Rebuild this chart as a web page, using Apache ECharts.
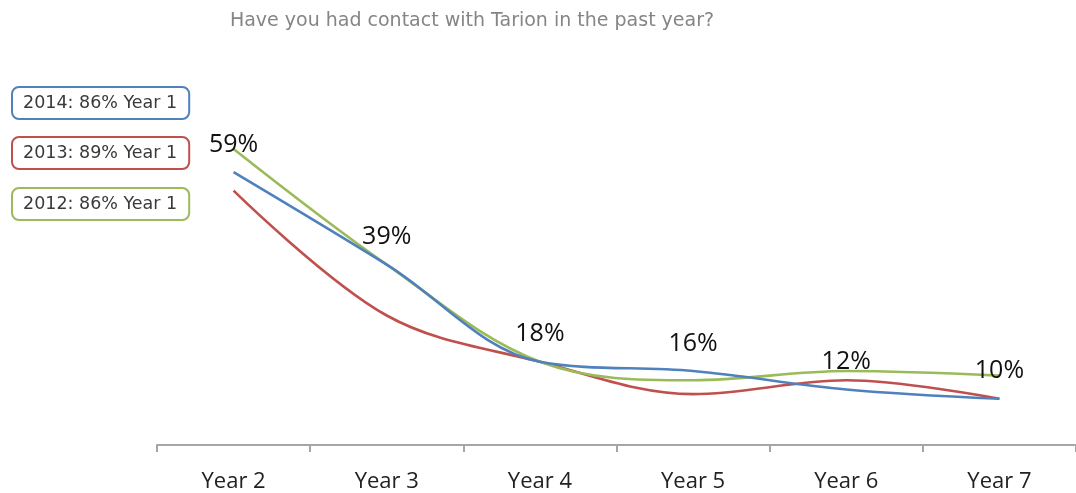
<!DOCTYPE html>
<html>
<head>
<meta charset="utf-8">
<script src="https://cdn.jsdelivr.net/npm/echarts@6/dist/echarts.min.js"></script>
<style>
  html, body { margin: 0; padding: 0; background: #ffffff; }
  #chart { width: 1076px; height: 493px; }
</style>
</head>
<body>
<div id="chart"></div>
<script>
// Share of homeowners reporting contact with Tarion, by year of possession
const categories = ['Year 2', 'Year 3', 'Year 4', 'Year 5', 'Year 6', 'Year 7'];
const seriesNames = ['2014: 86% Year 1', '2013: 89% Year 1', '2012: 86% Year 1'];
const values2014 = [59, 39, 18, 16, 12, 10];
const values2013 = [55, 28, 18, 11, 14, 10];
const values2012 = [64, 39, 18, 14, 16, 15];
const colors = ['#4F81BD', '#C0504D', '#9BBB59'];

const chart = echarts.init(document.getElementById('chart'));

function boxLegend(name, color, top) {
  return {
    data: [name],
    left: 12,
    top: top,
    orient: 'vertical',
    icon: 'none',
    itemWidth: 0,
    itemHeight: 0,
    selectedMode: false,
    borderColor: color,
    borderWidth: 2,
    borderRadius: 7,
    padding: [7, 12, 7, 6],
    backgroundColor: '#ffffff',
    textStyle: { fontFamily: 'DejaVu Sans', fontSize: 17.5, color: '#3a3a3a' }
  };
}

function lineSeries(name, data, color, z, showLabel) {
  return {
    name: name,
    type: 'line',
    data: data,
    smooth: 0.35,
    symbol: 'circle',
    symbolSize: 0,
    showSymbol: true,
    z: z,
    lineStyle: { color: color, width: 2.6 },
    itemStyle: { color: color },
    label: {
      show: showLabel,
      position: 'top',
      distance: 15,
      formatter: '{c}%',
      fontFamily: 'Open Sans',
      fontSize: 25,
      color: '#111111'
    }
  };
}

chart.setOption({
  animation: false,
  backgroundColor: '#ffffff',
  title: {
    text: 'Have you had contact with Tarion in the past year?',
    left: 467,
    top: 7,
    textAlign: 'center',
    textStyle: { fontFamily: 'DejaVu Sans', fontSize: 19, fontWeight: 'normal', color: '#858585' }
  },
  legend: [
    boxLegend(seriesNames[0], colors[0], 87),
    boxLegend(seriesNames[1], colors[1], 137),
    boxLegend(seriesNames[2], colors[2], 188)
  ],
  grid: { left: 157, right: -5, top: 75, bottom: 46 },
  xAxis: {
    type: 'category',
    data: categories,
    boundaryGap: true,
    axisLine: { lineStyle: { color: '#A6A6A6', width: 2 } },
    axisTick: { show: true, length: 7, lineStyle: { color: '#A6A6A6', width: 2 } },
    axisLabel: { fontFamily: 'Open Sans', fontSize: 22, color: '#222222', margin: 26 }
  },
  yAxis: {
    type: 'value',
    min: 0,
    max: 80,
    show: false,
    splitLine: { show: false }
  },
  series: [
    lineSeries(seriesNames[0], values2014, colors[0], 3, true),
    lineSeries(seriesNames[1], values2013, colors[1], 2, false),
    lineSeries(seriesNames[2], values2012, colors[2], 2, false)
  ]
});
</script>
</body>
</html>
